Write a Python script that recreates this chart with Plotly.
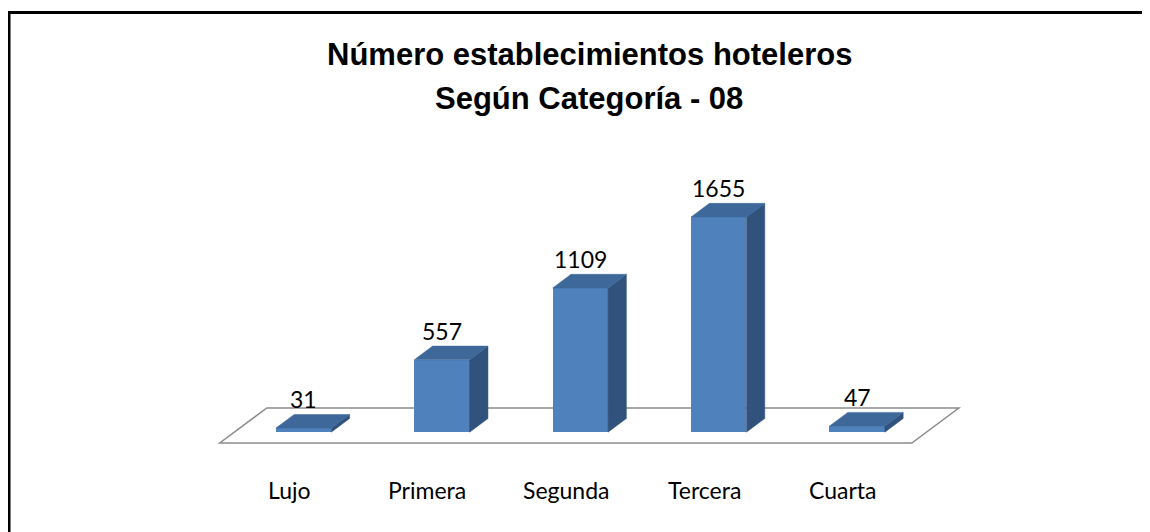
import plotly.graph_objects as go

# ---- data ----
categories = ["Lujo", "Primera", "Segunda", "Tercera", "Cuarta"]
values = [31, 557, 1109, 1655, 47]
title_lines = ["Número establecimientos hoteleros", "Según Categoría - 08"]

# ---- pseudo-3D projection parameters (styling / geometry) ----
OFF = 8                         # page body margin
W, H = 1150 - OFF, 532 - OFF
X0, SX = 289.0 - OFF, 138.4    # pixel of category 0 at floor front, px per category
Y0, SY = 443.0 - OFF, 0.13     # pixel of floor front, px per value unit
DXc = 47.0 / SX                # depth shift in category units (full depth)
DYv = 35.0 / SY                # depth shift in value units (full depth)
d0, d1 = 0.31, 0.70            # bar front / back depth
hw = 0.2                       # bar half-width in category units

FRONT = "#4f81bd"
TOP = "#3d6899"
SIDE = "#31527d"

def P(c, v, d):
    return c + d * DXc, v + d * DYv

fig = go.Figure()

# floor (below everything)
fc = [P(-0.5, 0, 0), P(4.5, 0, 0), P(4.5, 0, 1), P(-0.5, 0, 1)]
path = "M " + " L ".join(f"{x},{y}" for x, y in fc) + " Z"
fig.add_shape(type="path", path=path, xref="x", yref="y", layer="below",
              line=dict(color="#8c8c8c", width=1.5), fillcolor="white")

# front faces as bars
xs_front = [i + d0 * DXc for i in range(len(values))]
fig.add_trace(go.Bar(x=xs_front, y=values, base=[d0 * DYv] * len(values),
                     width=2 * hw, marker=dict(color=FRONT, line=dict(width=0)),
                     hoverinfo="skip", showlegend=False))

# top and side faces
for i, v in enumerate(values):
    top = [P(i - hw, v, d0), P(i + hw, v, d0), P(i + hw, v, d1), P(i - hw, v, d1), P(i - hw, v, d0)]
    side = [P(i + hw, 0, d0), P(i + hw, v, d0), P(i + hw, v, d1), P(i + hw, 0, d1), P(i + hw, 0, d0)]
    for poly, col in ((side, SIDE), (top, TOP)):
        fig.add_trace(go.Scatter(x=[p[0] for p in poly], y=[p[1] for p in poly],
                                 mode="lines", fill="toself", fillcolor=col,
                                 line=dict(width=0.5, color=col),
                                 hoverinfo="skip", showlegend=False))

# value labels
for i, v in enumerate(values):
    x, y = P(i, v, d1)
    fig.add_annotation(x=i + d0 * DXc, y=y, text=str(v), showarrow=False,
                       yanchor="middle", yshift=15,
                       font=dict(family="Lato", size=23, color="black"))

# category labels
for i, c in enumerate(categories):
    fig.add_annotation(x=i, y=0, text=c, showarrow=False, yanchor="middle",
                       yshift=-47, font=dict(family="Lato", size=23, color="black"))

# title lines
for ln, ypx in zip(title_lines, (55 - OFF, 98 - OFF)):
    fig.add_annotation(xref="paper", yref="paper", x=(589 - OFF) / W, y=1 - ypx / H,
                       text="<b>" + ln + "</b>", showarrow=False,
                       xanchor="center", yanchor="middle",
                       font=dict(family="Liberation Sans", size=31, color="black"))

# outer border (only left and top edges are visible in the frame)
ytop = 1 - (12.5 - OFF) / H
fig.add_shape(type="line", xref="paper", yref="paper", x0=1.0 / W, x1=1.0 / W,
              y0=0, y1=ytop, line=dict(color="black", width=3), layer="above")
fig.add_shape(type="line", xref="paper", yref="paper", x0=0, x1=1,
              y0=ytop, y1=ytop, line=dict(color="black", width=3), layer="above")

xr = [-X0 / SX, (W - X0) / SX]
yr = [-(H - Y0) / SY, Y0 / SY]

fig.update_layout(
    width=W, height=H,
    margin=dict(l=0, r=0, t=0, b=0),
    paper_bgcolor="white", plot_bgcolor="white",
    xaxis=dict(range=xr, visible=False, fixedrange=True),
    yaxis=dict(range=yr, visible=False, fixedrange=True),
    bargap=0,
)

fig.write_html("out.html")
